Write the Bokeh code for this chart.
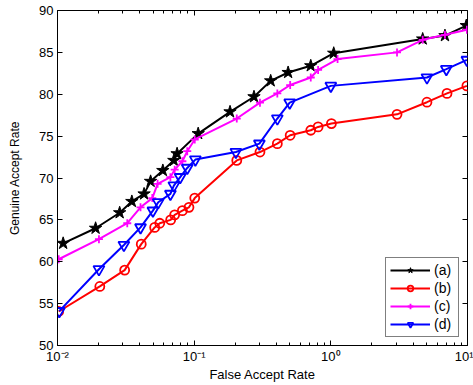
from bokeh.plotting import figure
from bokeh.models import (Range1d, FixedTicker, LogAxis, LinearAxis, Legend, LegendItem)
from bokeh.embed import file_html
from bokeh.resources import INLINE

# ---- data ----
a_x = [0.011, 0.019, 0.0285, 0.035, 0.043, 0.048, 0.059, 0.071, 0.075, 0.107,
       0.183, 0.274, 0.363, 0.487, 0.713, 1.05, 4.7, 6.84, 9.8]
a_y = [62.2, 64.0, 65.85, 67.2, 68.1, 69.6, 70.9, 72.1, 72.9, 75.3,
       77.9, 79.7, 81.6, 82.6, 83.4, 84.9, 86.6, 87.0, 88.2]

b_x = [0.0102, 0.0204, 0.031, 0.041, 0.0514, 0.056, 0.0673, 0.072, 0.082, 0.0916, 0.101,
       0.205, 0.303, 0.406, 0.504, 0.713, 0.807, 1.01, 3.05, 5.05, 7.08, 9.9]
b_y = [54.06, 57.05, 59.0, 62.1, 64.1, 64.6, 65.0, 65.6, 66.1, 66.5, 67.6,
       72.1, 73.1, 74.1, 75.1, 75.7, 76.1, 76.5, 77.6, 79.05, 80.1, 81.0]

c_x = [0.0102, 0.0201, 0.0324, 0.0405, 0.0494, 0.054, 0.067, 0.072, 0.082, 0.089, 0.101,
       0.205, 0.303, 0.406, 0.504, 0.713, 0.807, 1.12, 3.05, 4.7, 6.84, 9.9]
c_y = [60.3, 62.7, 64.6, 66.5, 67.6, 69.3, 70.1, 71.0, 72.0, 73.2, 74.6,
       77.1, 79.0, 80.1, 81.1, 82.0, 82.9, 84.2, 85.0, 86.5, 87.1, 87.7]

d_x = [0.0103, 0.0201, 0.0306, 0.0405, 0.0499, 0.0546, 0.067, 0.071, 0.079, 0.089, 0.102,
       0.202, 0.30, 0.406, 0.50, 1.0, 5.05, 7.0, 9.9]
d_y = [54.1, 59.1, 62.0, 64.1, 66.1, 67.1, 68.1, 69.1, 70.1, 71.2, 72.2,
       73.1, 74.1, 77.1, 79.0, 81.0, 82.0, 83.0, 84.1]

labels = ["(a)", "(b)", "(c)", "(d)"]
x_ticks = [0.01, 0.1, 1, 10]
x_tick_labels = ["10\u207b\u00b2", "10\u207b\u00b9", "10\u2070", "10\u00b9"]
y_ticks = [50, 55, 60, 65, 70, 75, 80, 85, 90]

FONT = "Liberation Sans"

p = figure(width=473, height=385, x_axis_type="log",
           x_range=Range1d(0.01, 10), y_range=Range1d(50, 90),
           output_backend="svg", toolbar_location=None,
           min_border_left=57, min_border_right=6, min_border_top=10, min_border_bottom=40)
p.xgrid.visible = False
p.ygrid.visible = False
p.outline_line_color = "black"
p.outline_line_width = 1
p.background_fill_color = "white"
p.border_fill_color = "white"

minor = []
for dec in [0.01, 0.1, 1]:
    for k in range(2, 10):
        minor.append(dec * k)

xt = FixedTicker(ticks=x_ticks, minor_ticks=minor)
yt = FixedTicker(ticks=y_ticks, minor_ticks=[])

xa = p.xaxis[0]
xa.ticker = xt
xa.major_label_overrides = {t: l for t, l in zip(x_ticks, x_tick_labels)}
xa.axis_label = "False Accept Rate"
ya = p.yaxis[0]
ya.ticker = yt
ya.axis_label = "Genuine Accept Rate"

for ax in [xa, ya]:
    ax.major_tick_in = 5
    ax.major_tick_out = 0
    ax.minor_tick_in = 3
    ax.minor_tick_out = 0
    ax.axis_line_color = "black"
    ax.major_tick_line_color = "black"
    ax.minor_tick_line_color = "black"
    ax.major_label_text_font = FONT
    ax.major_label_text_font_size = "13px"
    ax.major_label_text_color = "black"
    ax.axis_label_text_font = FONT
    ax.axis_label_text_font_style = "normal"
    ax.axis_label_text_color = "black"
ya.axis_label_text_font_size = "12px"
xa.axis_label_text_font_size = "13px"
xa.major_label_standoff = 3
xa.axis_label_standoff = 0
ya.major_label_standoff = 4
ya.axis_label_standoff = 14

top = LogAxis(ticker=xt, major_label_text_font_size="0px", major_label_standoff=0,
              major_tick_in=5, major_tick_out=0, minor_tick_in=3, minor_tick_out=0,
              axis_line_color=None)
right = LinearAxis(ticker=yt, major_label_text_font_size="0px", major_label_standoff=0,
                   major_tick_in=5, major_tick_out=0, minor_tick_in=0, minor_tick_out=0,
                   axis_line_color=None)
top.major_label_overrides = {t: "" for t in x_ticks}
right.major_label_overrides = {t: "" for t in y_ticks}
p.add_layout(top, "above")
p.add_layout(right, "right")

lw = 2
la = p.line(a_x, a_y, line_color="black", line_width=lw)
ma = p.scatter(a_x, a_y, marker="star", size=13, fill_color="black", line_color="black")
lb = p.line(b_x, b_y, line_color="red", line_width=lw)
mb = p.scatter(b_x, b_y, marker="circle", size=9, fill_color=None, line_color="red", line_width=1.8)
lc = p.line(c_x, c_y, line_color="magenta", line_width=lw)
mc = p.scatter(c_x, c_y, marker="cross", size=8, line_color="magenta", line_width=1.8)
ld = p.line(d_x, d_y, line_color="blue", line_width=lw)
md = p.scatter(d_x, d_y, marker="inverted_triangle", size=11, fill_color=None, line_color="blue", line_width=1.8)

legend = Legend(items=[
    LegendItem(label=labels[0], renderers=[la, ma]),
    LegendItem(label=labels[1], renderers=[lb, mb]),
    LegendItem(label=labels[2], renderers=[lc, mc]),
    LegendItem(label=labels[3], renderers=[ld, md]),
], location="bottom_right")
legend.border_line_color = "black"
legend.border_line_width = 1
legend.background_fill_alpha = 1
legend.label_text_font = FONT
legend.label_text_font_size = "14px"
legend.label_text_color = "black"
legend.glyph_width = 40
legend.glyph_height = 14
legend.label_height = 14
legend.spacing = 2
legend.padding = 4
legend.margin = 8
legend.label_standoff = 4
p.add_layout(legend)

open("out.html", "w").write(file_html(p, INLINE))
